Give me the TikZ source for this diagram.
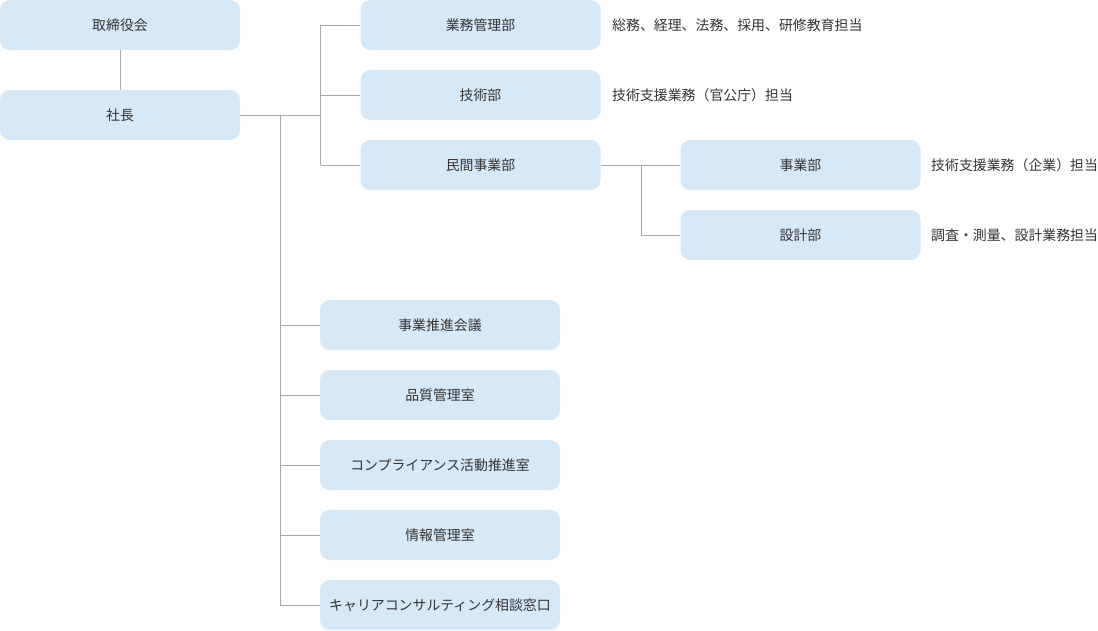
\documentclass[tikz,border=0pt]{standalone}
\usepackage{fontspec}
\setmainfont{Noto Sans CJK JP}
\definecolor{boxfill}{HTML}{D6E9F8}
\definecolor{linegray}{HTML}{A8A8A8}
\definecolor{txt}{HTML}{333333}
\begin{document}
\begin{tikzpicture}[x=1pt,y=-1pt,
  orgbox/.style={fill=boxfill,draw=none,rounded corners=10pt,minimum width=240pt,minimum height=50pt,inner sep=0pt,text=txt,font=\fontsize{13.9}{16}\selectfont},
  note/.style={anchor=west,inner sep=0pt,text=txt,font=\fontsize{13.9}{16}\selectfont},
  conn/.style={draw=linegray,line width=1pt}]
\useasboundingbox (0,0) rectangle (1098,630);
\node[orgbox] (board) at (120,25) {取締役会};
\node[orgbox] (pres) at (120,115) {社長};
\node[orgbox] (gyomu) at (480.5,25) {業務管理部};
\node[orgbox] (gijutsu) at (480.5,95) {技術部};
\node[orgbox] (minkan) at (480.5,165) {民間事業部};
\node[orgbox] (jigyo) at (800.5,165) {事業部};
\node[orgbox] (sekkei) at (800.5,235) {設計部};
\node[orgbox] (kaigi) at (440,325) {事業推進会議};
\node[orgbox] (hinshitsu) at (440,395) {品質管理室};
\node[orgbox] (comp) at (440,465) {コンプライアンス活動推進室};
\node[orgbox] (joho) at (440,535) {情報管理室};
\node[orgbox] (career) at (440,605) {キャリアコンサルティング相談窓口};
\node[note] (n1) at (612,25) {総務、経理、法務、採用、研修教育担当};
\node[note] (n2) at (612,95) {技術支援業務（官公庁）担当};
\node[note] (n3) at (931,165) {技術支援業務（企業）担当};
\node[note] (n4) at (931,235) {調査・測量、設計業務担当};
\coordinate (j1) at (320.5,115);
\coordinate (j2) at (280.5,115);
\coordinate (j3) at (641.5,165);
\begin{scope}[conn]
\draw (board.south) -- (pres.north);
\draw (pres.east) -- (j1);
\draw (j1 |- gyomu.west) -- (j1 |- minkan.west);
\draw (j1 |- gyomu.west) -- (gyomu.west);
\draw (j1 |- gijutsu.west) -- (gijutsu.west);
\draw (j1 |- minkan.west) -- (minkan.west);
\draw (j2) -- (j2 |- career.west) -- (career.west);
\draw (j2 |- kaigi.west) -- (kaigi.west);
\draw (j2 |- hinshitsu.west) -- (hinshitsu.west);
\draw (j2 |- comp.west) -- (comp.west);
\draw (j2 |- joho.west) -- (joho.west);
\draw (minkan.east) -- (jigyo.west);
\draw (j3) -- (j3 |- sekkei.west) -- (sekkei.west);
\end{scope}
\end{tikzpicture}
\end{document}
